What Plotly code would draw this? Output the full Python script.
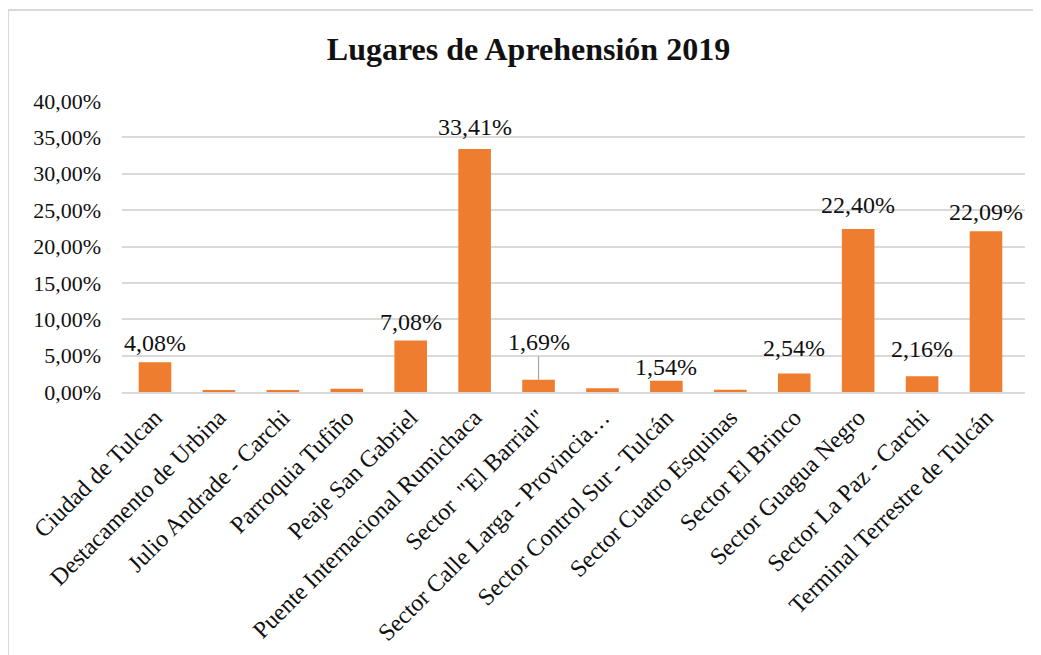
import plotly.graph_objects as go

categories = [
    "Ciudad de Tulcan",
    "Destacamento de Urbina",
    "Julio Andrade - Carchi",
    "Parroquia Tufiño",
    "Peaje San Gabriel",
    "Puente Internacional Rumichaca",
    "Sector  \"El Barrial\"",
    "Sector Calle Larga - Provincia…",
    "Sector Control Sur - Tulcán",
    "Sector Cuatro Esquinas",
    "Sector El Brinco",
    "Sector Guagua Negro",
    "Sector La Paz - Carchi",
    "Terminal Terrestre de Tulcán",
]
values = [0.0408, 0.0015, 0.0015, 0.0045, 0.0708, 0.3341, 0.0169, 0.0050,
          0.0154, 0.0030, 0.0254, 0.2240, 0.0216, 0.2209]
labels = ["4,08%", "", "", "", "7,08%", "33,41%", "1,69%", "", "1,54%", "",
          "2,54%", "22,40%", "2,16%", "22,09%"]
label_shift = [19, 0, 0, 0, 18, 22, 0, 0, 14, 0, 26, 24, 27, 19]
tick_vals = [0, 0.05, 0.10, 0.15, 0.20, 0.25, 0.30, 0.35, 0.40]

SERIF = "Liberation Serif, Times New Roman, serif"

fig = go.Figure()
fig.add_trace(go.Bar(
    x=categories, y=values,
    marker=dict(color="#EF7D2F", line=dict(width=0)),
    width=0.51,
    hoverinfo="x+y",
))

annotations = []
for c, v, lab, s in zip(categories, values, labels, label_shift):
    if not lab:
        continue
    if lab == "1,69%":
        annotations.append(dict(
            x=c, y=v, xref="x", yref="y", text=lab, showarrow=True,
            arrowhead=0, arrowwidth=1.2, arrowcolor="#A6A6A6",
            ax=0, ay=-38, font=dict(family=SERIF, size=24, color="#111111"),
        ))
    else:
        annotations.append(dict(
            x=c, y=v, xref="x", yref="y", text=lab, showarrow=False,
            yshift=s, font=dict(family=SERIF, size=24, color="#111111"),
        ))

fig.update_layout(
    width=1041, height=655,
    margin=dict(l=114, r=24, t=93, b=271),
    paper_bgcolor="white", plot_bgcolor="white",
    separators=",.",
    title=dict(text="<b>Lugares de Aprehensión 2019</b>", x=0.5, xanchor="center",
               y=0.938, yanchor="middle",
               font=dict(family=SERIF, size=32, color="#111111")),
    showlegend=False,
    annotations=annotations,
    bargap=0.49,
    shapes=[dict(type="rect", xref="paper", yref="paper",
                 x0=-0.1262, x1=1.03, y0=-0.95, y1=1.3127,
                 line=dict(color="#D9D9D9", width=2), fillcolor="rgba(0,0,0,0)",
                 layer="below")],
)
fig.update_yaxes(
    range=[0, 0.40], tickvals=tick_vals, tickformat=".2%",
    showgrid=True, gridcolor="#D9D9D9", gridwidth=1.5,
    zeroline=False, showline=False, ticks="", automargin=False,
    tickfont=dict(family=SERIF, size=22, color="#111111"),
    ticklabelstandoff=20,
)
fig.update_xaxes(
    tickangle=-45, showline=True, linecolor="#D9D9D9", linewidth=2,
    ticks="", automargin=False,
    tickfont=dict(family=SERIF, size=24, color="#111111"),
    showgrid=False,
)

fig.write_html("out.html")
